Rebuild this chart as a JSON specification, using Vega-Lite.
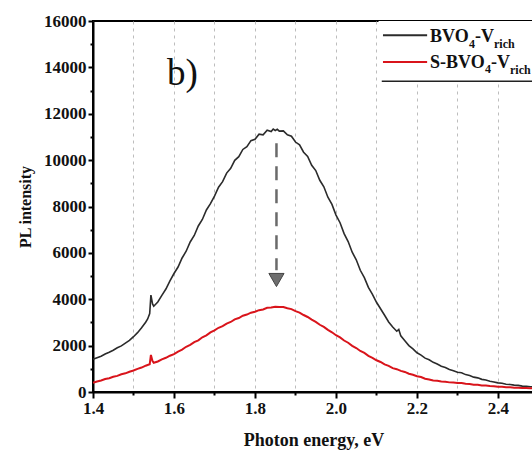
{
  "$schema": "https://vega.github.io/schema/vega-lite/v6.json",
  "autosize": {"type": "none"},
  "width": 441,
  "height": 371,
  "padding": {"left": 93, "top": 21, "right": 0, "bottom": 63},
  "background": "white",
  "config": {
    "view": {"stroke": "#000", "strokeWidth": 2},
    "font": "Liberation Serif"
  },
  "datasets": {
    "black": [
      {"E":1.40,"I":1410},{"E":1.41,"I":1480},{"E":1.42,"I":1545},{"E":1.43,"I":1640},{"E":1.44,"I":1715},
      {"E":1.45,"I":1800},{"E":1.46,"I":1905},{"E":1.47,"I":1990},{"E":1.48,"I":2110},{"E":1.49,"I":2230},
      {"E":1.50,"I":2385},{"E":1.51,"I":2560},{"E":1.52,"I":2770},{"E":1.53,"I":3010},{"E":1.535,"I":3150},
      {"E":1.54,"I":3380},{"E":1.543,"I":4180},{"E":1.547,"I":3800},{"E":1.55,"I":3700},{"E":1.56,"I":3880},
      {"E":1.57,"I":4170},{"E":1.58,"I":4440},{"E":1.59,"I":4790},{"E":1.60,"I":5110},{"E":1.61,"I":5390},
      {"E":1.62,"I":5780},{"E":1.63,"I":6070},{"E":1.64,"I":6470},{"E":1.65,"I":6750},{"E":1.66,"I":7160},
      {"E":1.67,"I":7440},{"E":1.68,"I":7850},{"E":1.69,"I":8120},{"E":1.70,"I":8450},{"E":1.71,"I":8830},
      {"E":1.72,"I":9070},{"E":1.73,"I":9440},{"E":1.74,"I":9650},{"E":1.75,"I":9990},{"E":1.76,"I":10150},
      {"E":1.77,"I":10460},{"E":1.78,"I":10580},{"E":1.79,"I":10840},{"E":1.80,"I":10900},{"E":1.81,"I":11120},
      {"E":1.82,"I":11090},{"E":1.83,"I":11290},{"E":1.84,"I":11230},{"E":1.845,"I":11340},{"E":1.85,"I":11280},
      {"E":1.855,"I":11330},{"E":1.86,"I":11250},{"E":1.87,"I":11260},{"E":1.88,"I":11090},{"E":1.89,"I":11030},
      {"E":1.90,"I":10780},{"E":1.91,"I":10660},{"E":1.92,"I":10340},{"E":1.93,"I":10160},{"E":1.94,"I":9780},
      {"E":1.95,"I":9550},{"E":1.96,"I":9130},{"E":1.97,"I":8850},{"E":1.98,"I":8400},{"E":1.99,"I":8090},
      {"E":2.00,"I":7630},{"E":2.01,"I":7300},{"E":2.02,"I":6830},{"E":2.03,"I":6490},{"E":2.04,"I":6030},
      {"E":2.05,"I":5700},{"E":2.06,"I":5250},{"E":2.07,"I":4930},{"E":2.08,"I":4510},{"E":2.09,"I":4210},
      {"E":2.10,"I":3870},{"E":2.11,"I":3590},{"E":2.12,"I":3310},{"E":2.13,"I":3020},{"E":2.14,"I":2800},
      {"E":2.15,"I":2620},{"E":2.155,"I":2700},{"E":2.16,"I":2420},{"E":2.17,"I":2210},{"E":2.18,"I":2000},
      {"E":2.19,"I":1860},{"E":2.20,"I":1690},{"E":2.21,"I":1590},{"E":2.22,"I":1460},{"E":2.23,"I":1390},
      {"E":2.24,"I":1280},{"E":2.25,"I":1210},{"E":2.26,"I":1110},{"E":2.27,"I":1060},{"E":2.28,"I":970},
      {"E":2.29,"I":920},{"E":2.30,"I":850},{"E":2.31,"I":830},{"E":2.32,"I":750},{"E":2.33,"I":710},
      {"E":2.34,"I":640},{"E":2.35,"I":610},{"E":2.36,"I":545},{"E":2.37,"I":515},{"E":2.38,"I":465},
      {"E":2.39,"I":435},{"E":2.40,"I":395},{"E":2.41,"I":375},{"E":2.42,"I":335},{"E":2.43,"I":325},
      {"E":2.44,"I":295},{"E":2.45,"I":285},{"E":2.46,"I":255},{"E":2.47,"I":250},{"E":2.48,"I":225},
      {"E":2.49,"I":230}
    ],
    "red": [
      {"E":1.40,"I":400},{"E":1.41,"I":455},{"E":1.42,"I":495},{"E":1.43,"I":560},{"E":1.44,"I":595},
      {"E":1.45,"I":655},{"E":1.46,"I":695},{"E":1.47,"I":765},{"E":1.48,"I":805},{"E":1.49,"I":875},
      {"E":1.50,"I":925},{"E":1.51,"I":995},{"E":1.52,"I":1055},{"E":1.53,"I":1135},{"E":1.54,"I":1195},
      {"E":1.543,"I":1600},{"E":1.547,"I":1330},{"E":1.55,"I":1260},{"E":1.56,"I":1315},{"E":1.57,"I":1405},
      {"E":1.58,"I":1475},{"E":1.59,"I":1565},{"E":1.60,"I":1635},{"E":1.61,"I":1745},{"E":1.62,"I":1830},
      {"E":1.63,"I":1950},{"E":1.64,"I":2030},{"E":1.65,"I":2150},{"E":1.66,"I":2230},{"E":1.67,"I":2360},
      {"E":1.68,"I":2440},{"E":1.69,"I":2570},{"E":1.70,"I":2660},{"E":1.71,"I":2770},{"E":1.72,"I":2840},
      {"E":1.73,"I":2950},{"E":1.74,"I":3020},{"E":1.75,"I":3130},{"E":1.76,"I":3190},{"E":1.77,"I":3290},
      {"E":1.78,"I":3340},{"E":1.79,"I":3420},{"E":1.80,"I":3460},{"E":1.81,"I":3530},{"E":1.82,"I":3560},
      {"E":1.83,"I":3630},{"E":1.84,"I":3640},{"E":1.85,"I":3680},{"E":1.86,"I":3670},{"E":1.87,"I":3665},
      {"E":1.88,"I":3610},{"E":1.89,"I":3575},{"E":1.90,"I":3490},{"E":1.91,"I":3425},{"E":1.92,"I":3320},
      {"E":1.93,"I":3235},{"E":1.94,"I":3120},{"E":1.95,"I":3025},{"E":1.96,"I":2900},{"E":1.97,"I":2805},
      {"E":1.98,"I":2680},{"E":1.99,"I":2575},{"E":2.00,"I":2450},{"E":2.01,"I":2355},{"E":2.02,"I":2220},
      {"E":2.03,"I":2125},{"E":2.04,"I":1990},{"E":2.05,"I":1895},{"E":2.06,"I":1770},{"E":2.07,"I":1685},
      {"E":2.08,"I":1560},{"E":2.09,"I":1475},{"E":2.10,"I":1370},{"E":2.11,"I":1295},{"E":2.12,"I":1190},
      {"E":2.13,"I":1125},{"E":2.14,"I":1030},{"E":2.15,"I":985},{"E":2.16,"I":910},{"E":2.17,"I":865},
      {"E":2.18,"I":790},{"E":2.19,"I":745},{"E":2.20,"I":680},{"E":2.21,"I":645},{"E":2.22,"I":570},
      {"E":2.23,"I":535},{"E":2.24,"I":495},{"E":2.25,"I":485},{"E":2.26,"I":455},{"E":2.27,"I":445},
      {"E":2.28,"I":415},{"E":2.29,"I":405},{"E":2.30,"I":385},{"E":2.31,"I":385},{"E":2.32,"I":355},
      {"E":2.33,"I":345},{"E":2.34,"I":315},{"E":2.35,"I":310},{"E":2.36,"I":285},{"E":2.37,"I":280},
      {"E":2.38,"I":255},{"E":2.39,"I":250},{"E":2.40,"I":225},{"E":2.41,"I":222},{"E":2.42,"I":205},
      {"E":2.43,"I":203},{"E":2.44,"I":185},{"E":2.45,"I":182},{"E":2.46,"I":170},{"E":2.47,"I":168},
      {"E":2.48,"I":158},{"E":2.49,"I":160}
    ],
    "legendBox": [{"E":2.105,"E2":2.6,"I":13404,"I2":16000}],
    "legendSamples": [
      {"E":2.116,"E2":2.225,"I":15387,"c":"#2b2b2b"},
      {"E":2.116,"E2":2.225,"I":14236,"c":"#d9141b"}
    ],
    "legendBig": [
      {"E":2.2321,"I":15085,"t":"BVO"},
      {"E":2.3432,"I":15085,"t":"-V"},
      {"E":2.2321,"I":13960,"t":"S-BVO"},
      {"E":2.3827,"I":13960,"t":"-V"}
    ],
    "legendSmall": [
      {"E":2.3284,"I":14850,"t":"4"},
      {"E":2.3901,"I":14830,"t":"rich"},
      {"E":2.3679,"I":13740,"t":"4"},
      {"E":2.4296,"I":13720,"t":"rich"}
    ]
  },
  "encoding": {
    "x": {
      "field": "E", "type": "quantitative",
      "scale": {"domain": [1.4, 2.4889], "nice": false, "zero": false},
      "axis": {
        "values": [1.4,1.5,1.6,1.7,1.8,1.9,2.0,2.1,2.2,2.3,2.4],
        "labelExpr": "round(datum.value*10)%2==0 ? format(datum.value,'.1f') : ''",
        "labelOverlap": false, "labelFlush": false,
        "grid": true, "gridDash": [3,4], "gridColor": "#bdbdbd", "gridWidth": 1,
        "domainColor": "#000", "domainWidth": 2,
        "tickColor": "#000", "tickWidth": 2,
        "tickSize": {"condition": {"test": "round(datum.value*10)%2==0", "value": 6}, "value": 3},
        "labelFont": "Liberation Serif", "labelFontWeight": "bold", "labelFontSize": 17, "labelColor": "#111",
        "labelPadding": 2,
        "title": "Photon energy, eV",
        "titleFont": "Liberation Serif", "titleFontWeight": "bold", "titleFontSize": 18, "titleColor": "#111",
        "titlePadding": 15
      }
    },
    "y": {
      "field": "I", "type": "quantitative",
      "scale": {"domain": [0, 16000], "nice": false},
      "axis": {
        "values": [0,1000,2000,3000,4000,5000,6000,7000,8000,9000,10000,11000,12000,13000,14000,15000,16000],
        "labelExpr": "datum.value % 2000 == 0 ? format(datum.value,'d') : ''",
        "labelOverlap": false, "labelFlush": false,
        "grid": false,
        "domainColor": "#000", "domainWidth": 2,
        "tickColor": "#000", "tickWidth": 2,
        "tickSize": {"condition": {"test": "datum.value % 2000 == 0", "value": 5}, "value": 3},
        "labelFont": "Liberation Serif", "labelFontWeight": "bold", "labelFontSize": 17, "labelColor": "#111",
        "labelPadding": 2,
        "title": "PL intensity",
        "titleFont": "Liberation Serif", "titleFontWeight": "bold", "titleFontSize": 16, "titleColor": "#111",
        "titlePadding": 10
      }
    }
  },
  "layer": [
    {
      "data": {"name": "legendBox"},
      "mark": {"type": "rect", "fill": "white", "stroke": null},
      "encoding": {"x2": {"field": "E2"}, "y2": {"field": "I2"}}
    },
    {
      "data": {"name": "black"},
      "mark": {"type": "line", "color": "#2b2b2b", "strokeWidth": 1.6}
    },
    {
      "data": {"name": "red"},
      "mark": {"type": "line", "color": "#d9141b", "strokeWidth": 2}
    },
    {
      "data": {"values": [{"E": 1.853, "I": 10730, "I2": 5250}]},
      "mark": {"type": "rule", "color": "#6a6a6a", "strokeWidth": 2.5, "strokeDash": [14, 9]},
      "encoding": {"y2": {"field": "I2"}}
    },
    {
      "data": {"values": [{"E": 1.853, "I": 4830}]},
      "mark": {"type": "point", "shape": "triangle-down", "filled": true, "fill": "#6e6e6e", "stroke": "#444", "strokeWidth": 1, "size": 230, "opacity": 1}
    },
    {
      "data": {"values": [{"E": 1.583, "I": 13230, "t": "b)"}]},
      "mark": {"type": "text", "font": "Liberation Serif", "fontSize": 37, "align": "left", "baseline": "alphabetic", "color": "#111"},
      "encoding": {"text": {"field": "t"}}
    },
    {
      "data": {"name": "legendSamples"},
      "mark": {"type": "rule", "strokeWidth": 2},
      "encoding": {"x2": {"field": "E2"}, "color": {"field": "c", "type": "nominal", "scale": null, "legend": null}}
    },
    {
      "data": {"values": [{"E": 2.113, "E2": 2.6, "I": 13404}]},
      "mark": {"type": "rule", "color": "#222", "strokeWidth": 1.5},
      "encoding": {"x2": {"field": "E2"}}
    },
    {
      "data": {"name": "legendBig"},
      "mark": {"type": "text", "font": "Liberation Serif", "fontWeight": "bold", "fontSize": 18, "align": "left", "baseline": "alphabetic", "color": "#111"},
      "encoding": {"text": {"field": "t"}}
    },
    {
      "data": {"name": "legendSmall"},
      "mark": {"type": "text", "font": "Liberation Serif", "fontWeight": "bold", "fontSize": 12, "align": "left", "baseline": "alphabetic", "color": "#111"},
      "encoding": {"text": {"field": "t"}}
    }
  ]
}
